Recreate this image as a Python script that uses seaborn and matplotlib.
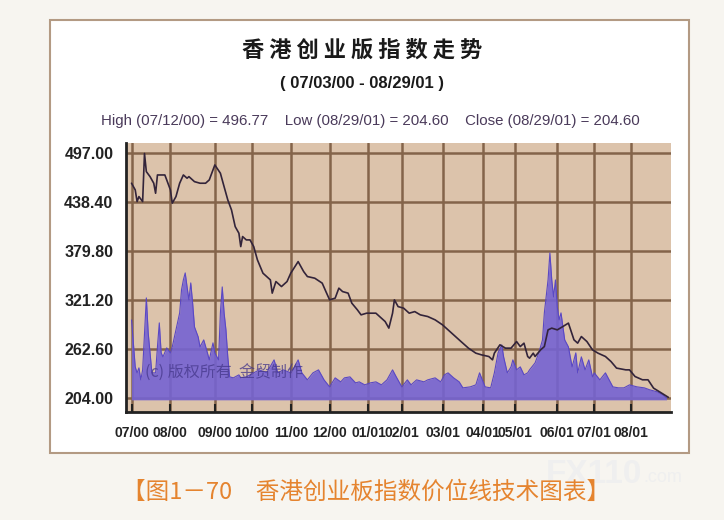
import numpy as np
import pandas as pd
import matplotlib
matplotlib.use("Agg")
import matplotlib.pyplot as plt
import seaborn as sns
from matplotlib.patches import Rectangle

sns.set_theme(style="white")
plt.rcParams['font.family'] = ['Liberation Sans', 'Noto Sans CJK SC', 'DejaVu Sans']

# trading-session number (0 = 07/03/00) and index level
price_session = [0, 2, 3, 4, 6, 7, 8, 10, 12, 13, 14, 18, 19, 21, 22, 24, 26, 28, 30, 31,
                 34, 37, 40, 42, 45, 48, 50, 52, 54, 56, 58, 59, 60, 62, 64, 66, 68, 71, 75, 76,
                 78, 81, 84, 86, 90, 93, 95, 99, 103, 105, 107, 110, 112, 114, 117, 119, 122, 124, 127, 132,
                 134, 137, 139, 141, 142, 144, 147, 150, 153, 156, 160, 164, 168, 171, 175, 178, 182, 186, 189, 193,
                 195, 196, 199, 202, 205, 208, 210, 212, 214, 215, 217, 218, 221, 223, 225, 227, 230, 233, 236, 239,
                 241, 243, 246, 249, 252, 256, 259, 262, 267, 269, 272, 276, 279, 282, 285, 290]
price = [461.1, 453.1, 439.1, 445.1, 439.1, 496.77, 475.0, 469.0, 461.1, 449.1, 471.0, 471.0, 465.1, 453.1, 437.2, 445.1, 461.1, 471.0, 467.1, 469.0,
         463.0, 461.1, 461.1, 465.1, 483.0, 473.1, 457.0, 441.1, 429.1, 409.1, 401.2, 385.2, 397.2, 393.2, 393.2, 385.2, 369.3, 353.3, 345.3, 329.4,
         343.3, 337.3, 343.3, 353.3, 367.2, 355.2, 349.3, 347.3, 341.4, 331.3, 321.4, 323.4, 335.4, 331.3, 329.4, 317.4, 309.4, 303.4, 305.4, 305.4,
         301.4, 295.4, 287.5, 305.4, 321.4, 313.3, 311.4, 305.4, 307.3, 303.4, 301.4, 297.4, 291.4, 285.4, 277.4, 271.4, 263.5, 257.5, 255.5, 253.5,
         249.5, 257.5, 267.5, 263.5, 263.5, 271.4, 265.4, 269.5, 253.5, 251.5, 257.5, 253.5, 261.5, 265.4, 285.4, 287.5, 285.4, 289.4, 293.5, 273.5,
         269.5, 277.4, 271.4, 261.5, 257.5, 253.5, 247.5, 239.6, 237.5, 237.5, 229.5, 225.6, 225.6, 215.6, 211.5, 204.6]

# turnover (relative units)
vol_session = [0, 2, 3, 4, 5, 6, 7, 8, 9, 11, 13, 14, 15, 16, 17, 19, 21, 22, 24, 26,
               27, 28, 29, 30, 31, 32, 33, 34, 36, 37, 39, 41, 42, 44, 45, 47, 48, 49, 50, 51,
               52, 53, 55, 58, 59, 62, 69, 73, 77, 79, 82, 86, 88, 90, 92, 95, 98, 101, 104, 107,
               110, 113, 115, 118, 121, 123, 126, 129, 132, 135, 138, 141, 143, 146, 149, 151, 154, 158, 160, 164,
               167, 169, 171, 174, 177, 179, 183, 186, 188, 191, 194, 196, 198, 200, 201, 203, 205, 206, 208, 210,
               212, 214, 215, 218, 220, 222, 223, 225, 226, 227, 228, 229, 230, 231, 232, 234, 236, 238, 240, 241,
               243, 245, 247, 249, 250, 253, 256, 258, 260, 263, 266, 269, 273, 277, 280, 284, 287, 289]
volume = [80, 33, 27, 32, 20, 30, 67, 102, 67, 27, 27, 53, 77, 47, 43, 52, 47, 53, 70, 87,
          110, 120, 127, 113, 100, 117, 97, 73, 63, 53, 60, 47, 40, 57, 47, 40, 87, 113, 87, 70,
          43, 23, 22, 25, 22, 23, 30, 27, 40, 27, 30, 27, 33, 40, 27, 20, 27, 30, 20, 13,
          22, 18, 22, 23, 17, 18, 15, 17, 18, 15, 20, 30, 23, 13, 20, 15, 20, 18, 20, 22,
          18, 25, 27, 22, 18, 12, 13, 15, 27, 13, 12, 27, 47, 55, 43, 27, 33, 40, 30, 33,
          25, 27, 30, 37, 47, 60, 87, 120, 147, 120, 103, 120, 93, 80, 87, 60, 53, 33, 47, 27,
          43, 30, 40, 23, 27, 20, 27, 20, 13, 12, 12, 15, 13, 12, 10, 8, 5, 2]

month_session = [0, 21, 45, 65, 86, 107, 128, 146, 168, 190, 207, 230, 250, 270]
month_labels = ['07/00', '08/00', '09/00', '10/00', '11/00', '12/00', '01/01',
                '02/01', '03/01', '04/01', '05/01', '06/01', '07/01', '08/01']
price_ticks = [204.00, 262.60, 321.20, 379.80, 438.40, 497.00]

df_p = pd.DataFrame({'session': price_session, 'price': price})
df_v = pd.DataFrame({'session': vol_session, 'volume': volume})

fig = plt.figure(figsize=(7.24, 5.2), dpi=100)
fig.patch.set_facecolor('#f7f5f0')
fig.patches.append(Rectangle((0.069, 0.129), 0.883, 0.833, transform=fig.transFigure,
                             facecolor='white', edgecolor='#b39a83', linewidth=1.5, zorder=-10))

ax = fig.add_axes([0.174, 0.208, 0.753, 0.517])
ax.set_facecolor('#dcc3ab')
ax.set_xlim(-3, 291.5)
ax.set_ylim(187.2, 509.3)
ax.set_yticks(price_ticks)
ax.set_yticklabels([f'{v:.2f}' for v in price_ticks], fontsize=11.5, fontweight='bold', color='#222222')
ax.set_xticks(month_session)
ax.set_xticklabels(month_labels, fontsize=10, fontweight='bold', color='#222222')
ax.grid(True, color='#84644a', linewidth=1.8)
ax.tick_params(axis='y', length=0, pad=9)
ax.tick_params(axis='x', direction='in', length=6, width=1.5, color='#222222', pad=10, bottom=True)
for s in ['top', 'right']:
    ax.spines[s].set_visible(False)
for s in ['left', 'bottom']:
    ax.spines[s].set_color('#222222')
    ax.spines[s].set_linewidth(2)
ax.set_xlabel('')
ax.set_ylabel('')

# volume area on its own scale
ax2 = ax.twinx()
ax2.set_ylim(-12, 257)
ax2.fill_between(df_v['session'], 0, df_v['volume'], color='#7563d2', alpha=0.9, linewidth=0)
sns.lineplot(data=df_v, x='session', y='volume', ax=ax2, color='#5a48c4', linewidth=0.8)
ax2.set_yticks([])
ax2.set_ylabel('')
ax2.text(0.035, 0.126, '(c) 版权所有  金贸制作', transform=ax2.transAxes, fontsize=11.5,
         color='#45378a', alpha=0.75, family=['Noto Sans CJK SC', 'DejaVu Sans'])
for s in ax2.spines.values():
    s.set_visible(False)

# price line on top, sharing the price scale
ax3 = ax.twinx()
ax3.set_ylim(ax.get_ylim())
sns.lineplot(data=df_p, x='session', y='price', ax=ax3, color='#33243a', linewidth=1.2)
ax3.set_yticks([])
ax3.set_ylabel('')
for s in ax3.spines.values():
    s.set_visible(False)
ax.set_xlim(-3, 291.5)

cjk = ['Noto Sans CJK SC', 'DejaVu Sans']
fig.text(0.5, 0.904, '香 港 创 业 版 指 数 走 势', ha='center', va='center', fontsize=16,
         fontweight='bold', color='#1a1a1a', family=cjk)
fig.text(0.5, 0.840, '( 07/03/00 - 08/29/01 )', ha='center', va='center', fontsize=12,
         fontweight='bold', color='#1a1a1a')
fig.text(0.511, 0.767, 'High (07/12/00) = 496.77    Low (08/29/01) = 204.60    Close (08/29/01) = 204.60',
         ha='center', va='center', fontsize=10.8, color='#4a3a5a')
fig.text(0.887, 0.088, 'FX110', ha='right', va='center', fontsize=24, fontweight='bold', color='#efefef')
fig.text(0.888, 0.082, '.com', ha='left', va='center', fontsize=13, color='#efefef')
fig.text(0.505, 0.054, '【图1－70　香港创业板指数价位线技术图表】', ha='center', va='center',
         fontsize=17, color='#e5842f', family=cjk)

fig.savefig('out.png', dpi=100, facecolor=fig.get_facecolor())
